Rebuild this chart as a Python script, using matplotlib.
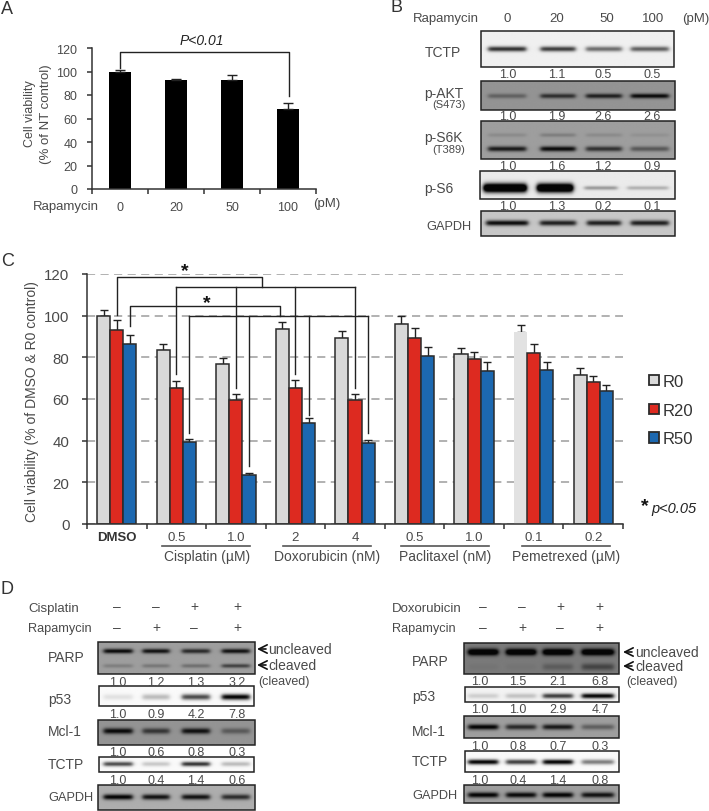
import numpy as np
import matplotlib
matplotlib.use("Agg")
import matplotlib.pyplot as plt
from matplotlib.patches import Rectangle, Patch

plt.rcParams["font.family"] = ["Liberation Sans", "DejaVu Sans"]

W, H = 709, 812
INK = "#4a4a4a"
EDGE = "#2b2b2b"

# panel A
a_doses = ["0", "20", "50", "100"]
a_values = [100, 93, 93, 68]
a_tops = [101.5, 94, 97, 73.5]

# panel C
c_groups = ["DMSO", "0.5", "1.0", "2", "4", "0.5", "1.0", "0.1", "0.2"]
r0_values = [99.8, 83.4, 76.7, 93.8, 89.5, 96.2, 81.5, 92.3, 71.7]
r0_tops = [102.9, 86.4, 79.9, 96.8, 92.7, 99.8, 84.5, 95.7, 74.8]
r20_values = [93, 65.5, 59.4, 65.5, 59.4, 89.5, 79, 82.1, 68]
r20_tops = [98, 68.7, 62.5, 69.2, 62.5, 94.2, 82.6, 86.4, 71]
r50_values = [86.6, 39.3, 23.3, 48.4, 38.8, 80.8, 73.5, 74.1, 63.7]
r50_tops = [90.9, 41, 24.6, 51, 40.4, 85.1, 78, 78, 66.8]
series_names = ["R0", "R20", "R50"]
series_colors = ["#d9d9d9", "#dd2a20", "#1c68b0"]

# blot quantification labels
b_tctp_q = ["1.0", "1.1", "0.5", "0.5"]
b_akt_q = ["1.0", "1.9", "2.6", "2.6"]
b_s6k_q = ["1.0", "1.6", "1.2", "0.9"]
b_s6_q = ["1.0", "1.3", "0.2", "0.1"]
dl_parp_q = ["1.0", "1.2", "1.3", "3.2"]
dl_p53_q = ["1.0", "0.9", "4.2", "7.8"]
dl_mcl_q = ["1.0", "0.6", "0.8", "0.3"]
dl_tctp_q = ["1.0", "0.4", "1.4", "0.6"]
dr_parp_q = ["1.0", "1.5", "2.1", "6.8"]
dr_p53_q = ["1.0", "1.0", "2.9", "4.7"]
dr_mcl_q = ["1.0", "0.8", "0.7", "0.3"]
dr_tctp_q = ["1.0", "0.4", "1.4", "0.8"]

# band darkness per lane, judged by eye from the blots
b_tctp_dark = [0.8, 0.75, 0.55, 0.6]
b_akt_dark = [0.35, 0.7, 0.8, 0.95]
b_s6k_dark = [0.85, 0.95, 0.7, 0.45]
b_s6k_faint = [0.12, 0.2, 0.12, 0.08]
b_s6_heavy = [1.6, 1.6, 0, 0]
b_s6_light = [0, 0, 0.35, 0.25]
b_gapdh_dark = [0.95, 0.85, 0.85, 0.85]
dl_parp_dark = [0.95, 0.9, 0.75, 0.9]
dl_parp_low = [0.2, 0.25, 0.3, 0.6]
dl_p53_dark = [0.1, 0.25, 0.7, 1.0]
dl_mcl_dark = [0.95, 0.65, 0.9, 0.4]
dl_tctp_dark = [0.7, 0.2, 0.8, 0.25]
dl_gapdh_dark = [1.0, 0.9, 0.9, 0.75]
dr_parp_dark = [1.4, 1.4, 1.4, 1.4]
dr_parp_low = [0.05, 0.05, 0.25, 0.45]
dr_p53_dark = [0.15, 0.2, 0.75, 1.0]
dr_mcl_dark = [1.0, 0.75, 0.85, 0.4]
dr_tctp_dark = [1.0, 0.75, 1.0, 0.5]
dr_gapdh_dark = [1.0, 0.95, 1.0, 0.9]


def axes_px(left, top, right, bottom):
    return fig.add_axes([left / W, 1 - bottom / H, (right - left) / W, (bottom - top) / H])


def label(x, y, s, size=10, ha="center", color=INK, **kw):
    ov.text(x, y, s, fontsize=size, ha=ha, va="center", color=color, **kw)


def blot(box, bg, lanes, widths, bands):
    # bands: list of (y pixel, sigma, darkness per lane)
    x0, y0, x1, y1 = box
    xs = np.arange(x0, x1 + 0.5, 0.5)
    ys = np.arange(y0, y1 + 0.5, 0.5)
    xx, yy = np.meshgrid(xs, ys)
    img = np.full(xx.shape, float(bg))
    for band_y, sigma, dark in bands:
        for cx, w, d in zip(lanes, widths, dark):
            across = 0.5 * (np.tanh((xx - cx + w / 2) / 2.5) - np.tanh((xx - cx - w / 2) / 2.5))
            down = np.exp(-((yy - band_y) / sigma) ** 2)
            img -= d * bg * across * down
    img = np.clip(img, 0.02, 1)
    ov.imshow(img, extent=(x0, x1, y1, y0), cmap="gray", vmin=0, vmax=1,
              aspect="auto", interpolation="bilinear", zorder=1)
    ov.add_patch(Rectangle((x0, y0), x1 - x0, y1 - y0, fill=False, ec="#222222", lw=1.1, zorder=2))


def row(xs, y, texts, size=9):
    for x, t in zip(xs, texts):
        label(x, y, t, size=size)


def style_axis(ax):
    ax.spines["top"].set_visible(False)
    ax.spines["right"].set_visible(False)
    for side in ["left", "bottom"]:
        ax.spines[side].set_color("#333333")
        ax.spines[side].set_linewidth(1.1)
    ax.tick_params(axis="y", labelsize=9, labelcolor=INK, length=3.6, width=1.1, color="#333333", pad=7)
    ax.tick_params(axis="x", which="major", length=3.5, width=1.1, color="#333333", labelbottom=False)
    ax.tick_params(axis="x", which="minor", length=0, labelsize=9.5, labelcolor=INK)


fig = plt.figure(figsize=(W / 100, H / 100), dpi=100)

# panel A bars
ax_a = axes_px(92, 49, 316, 190)
a_x = np.arange(len(a_doses))
a_err = [np.zeros(4), np.array(a_tops) - np.array(a_values)]
ax_a.bar(a_x, a_values, width=0.41, color="black")
ax_a.errorbar(a_x, a_values, yerr=a_err, fmt="none", ecolor="#222222", elinewidth=1, capsize=3.5, capthick=1)
ax_a.set_xlim(-0.5, 3.5)
ax_a.set_ylim(0, 120)
ax_a.set_yticks(range(0, 121, 20))
ax_a.set_xticks(np.arange(-0.5, 3.6, 1))
ax_a.set_xticks(a_x, a_doses, minor=True)
style_axis(ax_a)
ax_a.tick_params(axis="x", which="minor", pad=8.5, labelsize=9)
ax_a.plot([0, 0, 3.02, 3.02], [103, 116.6, 116.6, 79], color="#222222", lw=1)

# panel C bars
ax_c = axes_px(87, 275, 623, 525)
c_x = np.arange(len(c_groups))
bar_w = 0.22
ax_c.set_axisbelow(True)
ax_c.grid(axis="y", color="#ababab", lw=1.3, ls=(0, (4.5, 3)))
handles = []
for k, (vals, tops, color) in enumerate(zip([r0_values, r20_values, r50_values],
                                            [r0_tops, r20_tops, r50_tops], series_colors)):
    xpos = c_x + (k - 1) * bar_w
    bars = ax_c.bar(xpos, vals, width=bar_w, color=color, edgecolor=EDGE, linewidth=1.1, zorder=2)
    err = [np.zeros(len(vals)), np.array(tops) - np.array(vals)]
    ax_c.errorbar(xpos, vals, yerr=err, fmt="none", ecolor="#222222", elinewidth=1, capsize=3.2, capthick=1, zorder=1.5)
    handles.append(Patch(facecolor=color, edgecolor=EDGE, linewidth=1.3))
    if k == 0:
        # the 0.1 uM pemetrexed R0 bar has no outline and a paler fill
        bars[7].set_edgecolor("none")
        bars[7].set_facecolor("#e2e2e2")
ax_c.set_xlim(-0.5, 8.5)
ax_c.set_ylim(0, 120)
ax_c.set_yticks(range(0, 121, 20))
ax_c.set_xticks(np.arange(-0.5, 8.6, 1))
ax_c.set_xticks(c_x, c_groups, minor=True)
style_axis(ax_c)
ax_c.tick_params(axis="y", labelsize=10.8, pad=9)
ax_c.tick_params(axis="x", which="minor", pad=5)
ax_c.get_xticklabels(minor=True)[0].set_fontweight("bold")
ax_c.get_xticklabels(minor=True)[0].set_color("#333333")

# significance brackets of panel C
br = dict(color="#222222", lw=1, zorder=4)
ax_c.plot([0, 0, 2.446, 2.446], [100.3, 118.7, 118.7, 113.9], **br)
ax_c.plot([1, 4], [113.9, 113.9], **br)
for g, low in zip([1, 2, 3, 4], [72.2, 65.5, 72.2, 65.5]):
    ax_c.plot([g, g], [113.9, low], **br)
ax_c.plot([bar_w, bar_w, 2.744, 2.744], [95, 104.8, 104.8, 99.8], **br)
ax_c.plot([1 + bar_w, 4 + bar_w], [99.8, 99.8], **br)
for g, low in zip([1, 2, 3, 4], [43.6, 28, 52.4, 43.9]):
    ax_c.plot([g + bar_w, g + bar_w], [99.8, low], **br)

fig.legend(handles, series_names, loc="upper left", bbox_to_anchor=(649 / W, 1 - 375 / H),
           frameon=False, fontsize=12, handlelength=0.6, handleheight=0.6, borderaxespad=0,
           handletextpad=0.2, labelspacing=0.82, labelcolor="#333333", borderpad=0)

# overlay in pixel coordinates for panel letters, labels and blots
ov = fig.add_axes([0, 0, 1, 1], zorder=5)
ov.patch.set_alpha(0)
ov.axis("off")

for x, y, s in [(1, 9, "A"), (390, 8, "B"), (1, 262, "C"), (1, 590, "D")]:
    label(x, y, s, size=13, ha="left", color="#333333")

# panel A text
label(30, 114, "Cell viability", rotation=90, size=9)
label(46, 114, "(% of NT control)", rotation=90, size=9.5)
label(33, 207, "Rapamycin", ha="left", size=9.5)
label(313, 204, "(pM)", ha="left", size=9.5)
label(202, 41, "P<0.01", style="italic", size=10, color="#222222")

# panel C text
label(32, 402, "Cell viability (% of DMSO & R0 control)", rotation=90, size=10)
for x0, x1 in [(162, 250), (283, 371), (401, 489), (522, 610)]:
    ov.plot([x0, x1], [547, 547], color="#555555", lw=1.2)
for x, s in [(207, "Cisplatin (µM)"), (327, "Doxorubicin (nM)"), (445, "Paclitaxel (nM)"), (566, "Pemetrexed (µM)")]:
    label(x, 557, s, size=10)
label(185, 272, "*", size=14, color="#111111", fontweight="bold")
label(207, 304, "*", size=14, color="#111111", fontweight="bold")
label(645, 507, "*", size=14, color="#111111", fontweight="bold")
label(651, 509, "p<0.05", ha="left", style="italic", size=10.5, color="#222222")

# panel B
b_lanes = [507, 558, 604, 650]
b_widths = [38, 35, 36, 38]
label(413, 19, "Rapamycin", ha="left", size=9.5)
row([507, 557, 607, 653], 19, a_doses, size=9.5)
label(682, 19, "(pM)", ha="left", size=9.5)
blot((481, 32, 674, 68), 0.94, b_lanes, b_widths, [(50, 2.6, b_tctp_dark)])
blot((481, 82, 675, 111), 0.58, b_lanes, b_widths, [(97, 2.4, b_akt_dark)])
blot((481, 122, 675, 160), 0.62, b_lanes, b_widths, [(150, 2.6, b_s6k_dark), (136, 2, b_s6k_faint)])
blot((480, 172, 675, 200), 0.92, [505, 555, 601, 648], [43, 36, 33, 41],
     [(189, 4.5, b_s6_heavy), (189, 2, b_s6_light)])
blot((481, 212, 675, 237), 0.78, b_lanes, [42, 36, 34, 38], [(224, 2.8, b_gapdh_dark)])
b_q_x = [508, 557, 603, 652]
for y, q in zip([75, 117, 167, 207], [b_tctp_q, b_akt_q, b_s6k_q, b_s6_q]):
    row(b_q_x, y, q)
label(425, 53, "TCTP", size=10, ha="left")
label(424, 94, "p-AKT", size=10, ha="left")
label(432, 105, "(S473)", size=8, ha="left")
label(424, 138, "p-S6K", size=10, ha="left")
label(432, 150, "(T389)", size=8, ha="left")
label(424, 189, "p-S6", size=10, ha="left")
label(426, 227, "GAPDH", size=9.2, ha="left")

# panel D, cisplatin blots
dl_lanes = [118, 156, 196, 236]
dl_widths = [29, 27, 28, 28]
dl_signs = [117, 156, 194, 237]
label(28, 609, "Cisplatin", ha="left", size=9.5)
label(28, 629, "Rapamycin", ha="left", size=9.2)
row(dl_signs, 607, ["–", "–", "+", "+"], size=10)
row(dl_signs, 628, ["–", "+", "–", "+"], size=10)
blot((98, 643, 255, 675), 0.62, dl_lanes, dl_widths, [(652, 2.4, dl_parp_dark), (667, 2, dl_parp_low)])
blot((99, 687, 254, 707), 0.98, dl_lanes, dl_widths, [(698, 3, dl_p53_dark)])
blot((98, 721, 255, 746), 0.58, dl_lanes, dl_widths, [(732, 3, dl_mcl_dark)])
blot((99, 758, 254, 773), 0.98, dl_lanes, dl_widths, [(765, 2.4, dl_tctp_dark)])
blot((98, 786, 255, 811), 0.68, dl_lanes, dl_widths, [(798, 2.8, dl_gapdh_dark)])
dl_q_x = [118, 156, 196, 237]
for y, q in zip([683, 715, 753, 781], [dl_parp_q, dl_p53_q, dl_mcl_q, dl_tctp_q]):
    row(dl_q_x, y, q)
for y, s, size in zip([658, 700, 732, 765, 798], ["PARP", "p53", "Mcl-1", "TCTP", "GAPDH"], [10, 10, 10, 10, 9.2]):
    label(48, y, s, ha="left", size=size)

# panel D, doxorubicin blots
dr_lanes = [483, 521, 558, 598]
dr_widths = [30, 30, 30, 32]
dr_signs = [483, 522, 560, 599]
label(392, 609, "Doxorubicin", ha="left", size=9.5)
label(392, 629, "Rapamycin", ha="left", size=9.2)
row(dr_signs, 607, ["–", "–", "+", "+"], size=10)
row(dr_signs, 628, ["–", "+", "–", "+"], size=10)
blot((464, 644, 619, 675), 0.48, dr_lanes, dr_widths, [(653, 3.4, dr_parp_dark), (668, 3.5, dr_parp_low)])
blot((465, 688, 619, 703), 0.95, dr_lanes, dr_widths, [(697, 2.6, dr_p53_dark)])
blot((464, 717, 619, 739), 0.62, dr_lanes, dr_widths, [(728, 2.8, dr_mcl_dark)])
blot((465, 752, 619, 773), 0.98, dr_lanes, dr_widths, [(763, 2.6, dr_tctp_dark)])
blot((464, 786, 619, 804), 0.62, dr_lanes, dr_widths, [(796, 2.8, dr_gapdh_dark)])
dr_q_x = [480, 518, 558, 600]
for y, q in zip([682, 710, 747, 781], [dr_parp_q, dr_p53_q, dr_mcl_q, dr_tctp_q]):
    row(dr_q_x, y, q)
for y, s, size in zip([662, 697, 732, 762, 796], ["PARP", "p53", "Mcl-1", "TCTP", "GAPDH"], [10, 10, 10, 10, 9.2]):
    label(412, y, s, ha="left", size=size)

# cleavage arrows
arrow = dict(arrowstyle="->", lw=1.2, color="#111111", mutation_scale=15, shrinkA=0, shrinkB=0)
for tip, text_x, q_x, y_un, y_cl, y_q in [(257, 268, 258, 650, 666, 682), (623, 635, 626, 653, 667, 682)]:
    ov.annotate("", xy=(tip, y_un), xytext=(tip + 9, y_un), arrowprops=arrow)
    ov.annotate("", xy=(tip, y_cl), xytext=(tip + 9, y_cl), arrowprops=arrow)
    label(text_x, y_un, "uncleaved", ha="left", size=10)
    label(text_x, y_cl, "cleaved", ha="left", size=10)
    label(q_x, y_q, "(cleaved)", ha="left", size=9)

ov.set_xlim(0, W)
ov.set_ylim(H, 0)

fig.savefig("out.png", dpi=100)
